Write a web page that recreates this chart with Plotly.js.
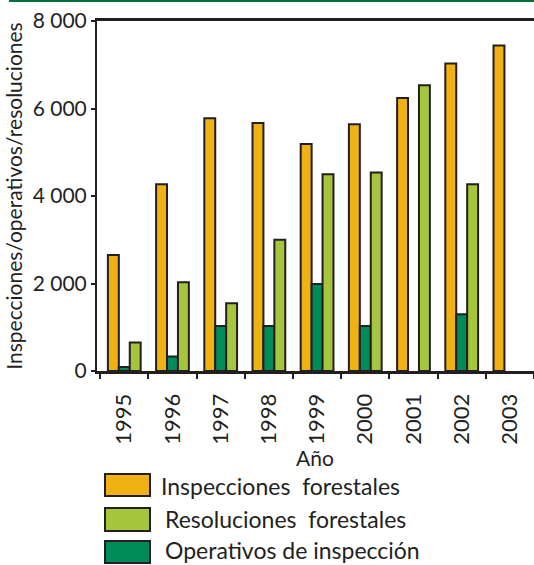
<!DOCTYPE html>
<html>
<head>
<meta charset="utf-8">
<script src="https://cdn.plot.ly/plotly-3.0.1.min.js"></script>
<style>html,body{margin:0;padding:0;background:#fff;}#chart{width:534px;height:565px;}</style>
</head>
<body>
<div id="chart"></div>
<script>
const years = ['1995','1996','1997','1998','1999','2000','2001','2002','2003'];
const inspecciones = [2650, 4270, 5780, 5670, 5190, 5640, 6240, 7030, 7440];
const operativos = [90, 330, 1030, 1030, 1990, 1030, null, 1300, null];
const resoluciones = [650, 2030, 1550, 3000, 4500, 4540, 6530, 4270, null];
const seriesNames = ['Inspecciones  forestales', 'Resoluciones  forestales', 'Operativos de inspección'];
const yTickVals = [0, 2000, 4000, 6000, 8000];
const yTickText = ['0', '2 000', '4 000', '6 000', '8 000'];

const colors = {insp: '#EFB113', res: '#A5C53C', op: '#008B5B'};
const outline = {color: '#231F20', width: 2};
const font = 'Lato, "Open Sans", sans-serif';

const traces = [
  {type: 'bar', x: years, y: inspecciones, name: seriesNames[0], marker: {color: colors.insp, line: outline}},
  {type: 'bar', x: years, y: operativos, name: seriesNames[2], marker: {color: colors.op, line: outline}},
  {type: 'bar', x: years, y: resoluciones, name: seriesNames[1], marker: {color: colors.res, line: outline}}
];

// pixel -> paper helpers for the custom legend
const L = 97, T = 21, W = 534 - 97, H = 371 - 21;
const px = v => (v - L) / W;
const py = v => (T + H - v) / H;

const legendRows = [
  {label: seriesNames[0], color: colors.insp, y0: 474, y1: 496, tx: 160, ty: 486},
  {label: seriesNames[1], color: colors.res, y0: 508, y1: 531, tx: 164, ty: 519},
  {label: seriesNames[2], color: colors.op, y0: 541, y1: 563, tx: 164, ty: 550}
];

const shapes = [
  {type: 'line', xref: 'paper', yref: 'paper', x0: px(9), x1: px(534), y0: py(1), y1: py(1), line: {color: '#00703C', width: 2}}
];
const annotations = [
  {xref: 'paper', yref: 'paper', x: px(315), y: py(457), xanchor: 'center', yanchor: 'middle', borderpad: 0,
    text: 'Año', showarrow: false, font: {family: font, size: 21, color: '#231F20'}}
];
legendRows.forEach(r => {
  shapes.push({type: 'rect', xref: 'paper', yref: 'paper', x0: px(105), x1: px(150), y0: py(r.y1), y1: py(r.y0),
    fillcolor: r.color, line: {color: '#231F20', width: 2}});
  annotations.push({xref: 'paper', yref: 'paper', x: px(r.tx), y: py(r.ty), xanchor: 'left', yanchor: 'middle', borderpad: 0,
    text: r.label, showarrow: false, font: {family: font, size: 23, color: '#231F20'}});
});

const layout = {
  width: 534, height: 565,
  margin: {l: 97, r: 0, t: 21, b: 194, pad: 0},
  paper_bgcolor: '#fff', plot_bgcolor: '#fff',
  showlegend: false,
  barmode: 'group', bargap: 0.32, bargroupgap: 0,
  font: {family: font, color: '#231F20'},
  xaxis: {
    type: 'category', range: [-0.566, 8.5],
    tickson: 'boundaries', ticks: 'outside', ticklen: 5, tickwidth: 2, tickcolor: '#231F20',
    tickangle: -90, tickfont: {family: font, size: 22, color: '#231F20'}, ticklabelstandoff: 11,
    showline: true, linecolor: '#231F20', linewidth: 3, mirror: true,
    showgrid: false, zeroline: false
  },
  yaxis: {
    range: [0, 8000], tickvals: yTickVals, ticktext: yTickText,
    ticks: 'outside', ticklen: 4, tickwidth: 2, tickcolor: '#231F20',
    tickfont: {family: font, size: 21, color: '#231F20'},
    showline: true, linecolor: '#231F20', linewidth: 2,
    showgrid: false, zeroline: false,
    title: {text: 'Inspecciones/operativos/resoluciones', font: {family: font, size: 21, color: '#231F20'}, standoff: 4}
  },
  shapes: shapes,
  annotations: annotations
};

Plotly.newPlot('chart', traces, layout, {displayModeBar: false, staticPlot: true});
</script>
</body>
</html>
